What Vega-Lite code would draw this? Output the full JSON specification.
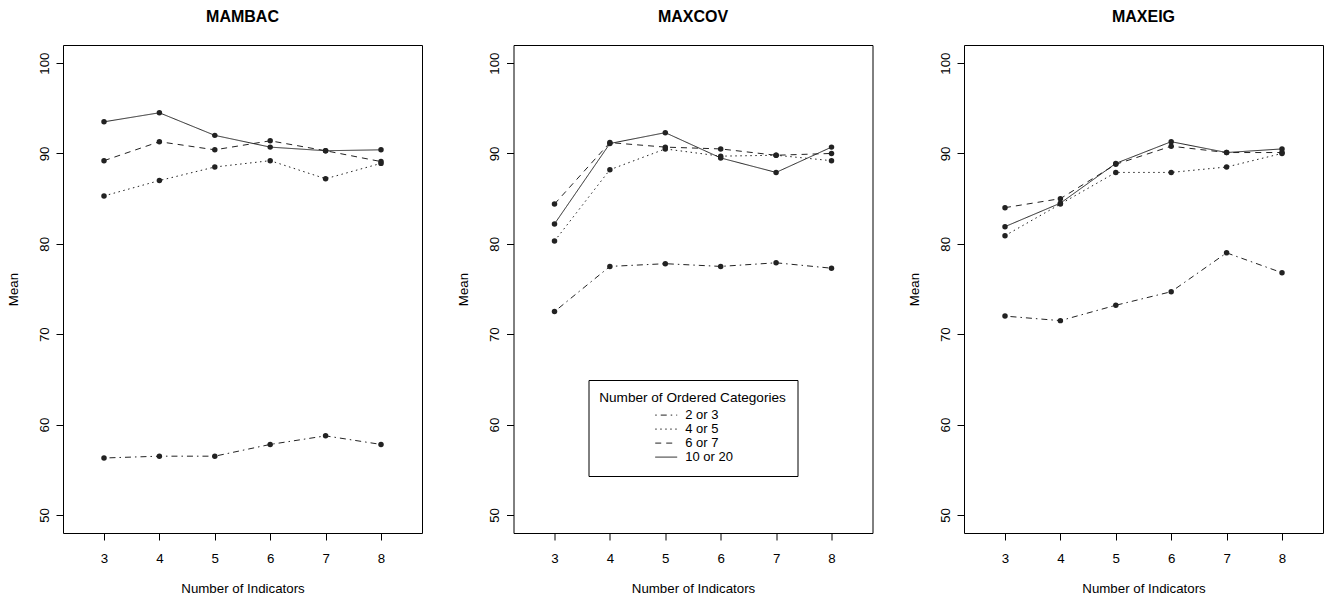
{
  "$schema": "https://vega.github.io/schema/vega-lite/v6.json",
  "padding": {"left": 5, "top": 8, "right": 0, "bottom": 5},
  "background": "white",
  "bounds": "flush",
  "spacing": 91.5,
  "data": {"values": [
    {"method": "MAMBAC", "cat": "2 or 3", "n": 3, "mean": 56.3},
    {"method": "MAMBAC", "cat": "2 or 3", "n": 4, "mean": 56.5},
    {"method": "MAMBAC", "cat": "2 or 3", "n": 5, "mean": 56.5},
    {"method": "MAMBAC", "cat": "2 or 3", "n": 6, "mean": 57.8},
    {"method": "MAMBAC", "cat": "2 or 3", "n": 7, "mean": 58.75},
    {"method": "MAMBAC", "cat": "2 or 3", "n": 8, "mean": 57.8},
    {"method": "MAMBAC", "cat": "4 or 5", "n": 3, "mean": 85.3},
    {"method": "MAMBAC", "cat": "4 or 5", "n": 4, "mean": 87.0},
    {"method": "MAMBAC", "cat": "4 or 5", "n": 5, "mean": 88.5},
    {"method": "MAMBAC", "cat": "4 or 5", "n": 6, "mean": 89.2},
    {"method": "MAMBAC", "cat": "4 or 5", "n": 7, "mean": 87.2},
    {"method": "MAMBAC", "cat": "4 or 5", "n": 8, "mean": 88.9},
    {"method": "MAMBAC", "cat": "6 or 7", "n": 3, "mean": 89.2},
    {"method": "MAMBAC", "cat": "6 or 7", "n": 4, "mean": 91.3},
    {"method": "MAMBAC", "cat": "6 or 7", "n": 5, "mean": 90.4},
    {"method": "MAMBAC", "cat": "6 or 7", "n": 6, "mean": 91.4},
    {"method": "MAMBAC", "cat": "6 or 7", "n": 7, "mean": 90.3},
    {"method": "MAMBAC", "cat": "6 or 7", "n": 8, "mean": 89.1},
    {"method": "MAMBAC", "cat": "10 or 20", "n": 3, "mean": 93.5},
    {"method": "MAMBAC", "cat": "10 or 20", "n": 4, "mean": 94.5},
    {"method": "MAMBAC", "cat": "10 or 20", "n": 5, "mean": 92.0},
    {"method": "MAMBAC", "cat": "10 or 20", "n": 6, "mean": 90.7},
    {"method": "MAMBAC", "cat": "10 or 20", "n": 7, "mean": 90.3},
    {"method": "MAMBAC", "cat": "10 or 20", "n": 8, "mean": 90.4},
    {"method": "MAXCOV", "cat": "2 or 3", "n": 3, "mean": 72.5},
    {"method": "MAXCOV", "cat": "2 or 3", "n": 4, "mean": 77.5},
    {"method": "MAXCOV", "cat": "2 or 3", "n": 5, "mean": 77.8},
    {"method": "MAXCOV", "cat": "2 or 3", "n": 6, "mean": 77.5},
    {"method": "MAXCOV", "cat": "2 or 3", "n": 7, "mean": 77.9},
    {"method": "MAXCOV", "cat": "2 or 3", "n": 8, "mean": 77.3},
    {"method": "MAXCOV", "cat": "4 or 5", "n": 3, "mean": 80.3},
    {"method": "MAXCOV", "cat": "4 or 5", "n": 4, "mean": 88.2},
    {"method": "MAXCOV", "cat": "4 or 5", "n": 5, "mean": 90.5},
    {"method": "MAXCOV", "cat": "4 or 5", "n": 6, "mean": 89.7},
    {"method": "MAXCOV", "cat": "4 or 5", "n": 7, "mean": 89.8},
    {"method": "MAXCOV", "cat": "4 or 5", "n": 8, "mean": 89.2},
    {"method": "MAXCOV", "cat": "6 or 7", "n": 3, "mean": 84.4},
    {"method": "MAXCOV", "cat": "6 or 7", "n": 4, "mean": 91.2},
    {"method": "MAXCOV", "cat": "6 or 7", "n": 5, "mean": 90.7},
    {"method": "MAXCOV", "cat": "6 or 7", "n": 6, "mean": 90.5},
    {"method": "MAXCOV", "cat": "6 or 7", "n": 7, "mean": 89.8},
    {"method": "MAXCOV", "cat": "6 or 7", "n": 8, "mean": 90.0},
    {"method": "MAXCOV", "cat": "10 or 20", "n": 3, "mean": 82.2},
    {"method": "MAXCOV", "cat": "10 or 20", "n": 4, "mean": 91.1},
    {"method": "MAXCOV", "cat": "10 or 20", "n": 5, "mean": 92.3},
    {"method": "MAXCOV", "cat": "10 or 20", "n": 6, "mean": 89.5},
    {"method": "MAXCOV", "cat": "10 or 20", "n": 7, "mean": 87.9},
    {"method": "MAXCOV", "cat": "10 or 20", "n": 8, "mean": 90.7},
    {"method": "MAXEIG", "cat": "2 or 3", "n": 3, "mean": 72.0},
    {"method": "MAXEIG", "cat": "2 or 3", "n": 4, "mean": 71.5},
    {"method": "MAXEIG", "cat": "2 or 3", "n": 5, "mean": 73.2},
    {"method": "MAXEIG", "cat": "2 or 3", "n": 6, "mean": 74.7},
    {"method": "MAXEIG", "cat": "2 or 3", "n": 7, "mean": 79.0},
    {"method": "MAXEIG", "cat": "2 or 3", "n": 8, "mean": 76.8},
    {"method": "MAXEIG", "cat": "4 or 5", "n": 3, "mean": 80.9},
    {"method": "MAXEIG", "cat": "4 or 5", "n": 4, "mean": 84.4},
    {"method": "MAXEIG", "cat": "4 or 5", "n": 5, "mean": 87.9},
    {"method": "MAXEIG", "cat": "4 or 5", "n": 6, "mean": 87.9},
    {"method": "MAXEIG", "cat": "4 or 5", "n": 7, "mean": 88.5},
    {"method": "MAXEIG", "cat": "4 or 5", "n": 8, "mean": 90.0},
    {"method": "MAXEIG", "cat": "6 or 7", "n": 3, "mean": 84.0},
    {"method": "MAXEIG", "cat": "6 or 7", "n": 4, "mean": 85.0},
    {"method": "MAXEIG", "cat": "6 or 7", "n": 5, "mean": 88.8},
    {"method": "MAXEIG", "cat": "6 or 7", "n": 6, "mean": 90.8},
    {"method": "MAXEIG", "cat": "6 or 7", "n": 7, "mean": 90.1},
    {"method": "MAXEIG", "cat": "6 or 7", "n": 8, "mean": 90.1},
    {"method": "MAXEIG", "cat": "10 or 20", "n": 3, "mean": 81.9},
    {"method": "MAXEIG", "cat": "10 or 20", "n": 4, "mean": 84.5},
    {"method": "MAXEIG", "cat": "10 or 20", "n": 5, "mean": 88.9},
    {"method": "MAXEIG", "cat": "10 or 20", "n": 6, "mean": 91.3},
    {"method": "MAXEIG", "cat": "10 or 20", "n": 7, "mean": 90.1},
    {"method": "MAXEIG", "cat": "10 or 20", "n": 8, "mean": 90.5}
  ]},
  "resolve": {"scale": {"strokeDash": "independent"}, "legend": {"strokeDash": "independent"}},
  "hconcat": [
    {
      "width": 359, "height": 488,
      "title": "MAMBAC",
      "transform": [{"filter": "datum.method === 'MAMBAC'"}],
      "layer": [
        {
          "mark": {"type": "line", "color": "#222", "strokeWidth": 1},
          "encoding": {
            "x": {"field": "n", "type": "quantitative", "scale": {"domain": [2.26, 8.74], "nice": false, "zero": false}, "axis": {"values": [3, 4, 5, 6, 7, 8], "title": "Number of Indicators"}},
            "y": {"field": "mean", "type": "quantitative", "scale": {"domain": [48, 102], "nice": false, "zero": false}, "axis": {"values": [50, 60, 70, 80, 90, 100], "title": "Mean"}},
            "strokeDash": {"field": "cat", "type": "nominal", "scale": {"domain": ["2 or 3", "4 or 5", "6 or 7", "10 or 20"], "range": [[1.5, 4, 6, 4], [1.5, 3.5], [6, 5], [1, 0]]}, "legend": null}
          }
        },
        {
          "mark": {"type": "circle", "color": "#222", "size": 30, "opacity": 1},
          "encoding": {
            "x": {"field": "n", "type": "quantitative"},
            "y": {"field": "mean", "type": "quantitative"}
          }
        }
      ]
    },
    {
      "width": 359, "height": 488,
      "title": "MAXCOV",
      "transform": [{"filter": "datum.method === 'MAXCOV'"}],
      "layer": [
        {
          "mark": {"type": "line", "color": "#222", "strokeWidth": 1},
          "encoding": {
            "x": {"field": "n", "type": "quantitative", "scale": {"domain": [2.26, 8.74], "nice": false, "zero": false}, "axis": {"values": [3, 4, 5, 6, 7, 8], "title": "Number of Indicators"}},
            "y": {"field": "mean", "type": "quantitative", "scale": {"domain": [48, 102], "nice": false, "zero": false}, "axis": {"values": [50, 60, 70, 80, 90, 100], "title": "Mean"}},
            "strokeDash": {"field": "cat", "type": "nominal", "scale": {"domain": ["2 or 3", "4 or 5", "6 or 7", "10 or 20"], "range": [[1.5, 4, 6, 4], [1.5, 3.5], [6, 5], [1, 0]]},
              "legend": {"orient": "none", "legendX": 75, "legendY": 335, "title": "Number of Ordered Categories", "titleLimit": 400, "strokeColor": "#000", "fillColor": "white", "padding": 11, "titleFontWeight": "normal", "titleFontSize": 13.6, "titleColor": "#000", "titleAnchor": "middle", "titlePadding": 4, "labelFontSize": 13, "labelColor": "#000", "symbolType": "M-1.83,0H1.83", "symbolSize": 144, "symbolStrokeWidth": 1, "symbolStrokeColor": "#222", "symbolFillColor": "transparent", "symbolOffset": 8.2, "labelOffset": 12.5, "rowPadding": -2.5}}
          }
        },
        {
          "mark": {"type": "circle", "color": "#222", "size": 30, "opacity": 1},
          "encoding": {
            "x": {"field": "n", "type": "quantitative"},
            "y": {"field": "mean", "type": "quantitative"}
          }
        }
      ]
    },
    {
      "width": 359, "height": 488,
      "title": "MAXEIG",
      "transform": [{"filter": "datum.method === 'MAXEIG'"}],
      "layer": [
        {
          "mark": {"type": "line", "color": "#222", "strokeWidth": 1},
          "encoding": {
            "x": {"field": "n", "type": "quantitative", "scale": {"domain": [2.26, 8.74], "nice": false, "zero": false}, "axis": {"values": [3, 4, 5, 6, 7, 8], "title": "Number of Indicators"}},
            "y": {"field": "mean", "type": "quantitative", "scale": {"domain": [48, 102], "nice": false, "zero": false}, "axis": {"values": [50, 60, 70, 80, 90, 100], "title": "Mean"}},
            "strokeDash": {"field": "cat", "type": "nominal", "scale": {"domain": ["2 or 3", "4 or 5", "6 or 7", "10 or 20"], "range": [[1.5, 4, 6, 4], [1.5, 3.5], [6, 5], [1, 0]]}, "legend": null}
          }
        },
        {
          "mark": {"type": "circle", "color": "#222", "size": 30, "opacity": 1},
          "encoding": {
            "x": {"field": "n", "type": "quantitative"},
            "y": {"field": "mean", "type": "quantitative"}
          }
        }
      ]
    }
  ],
  "config": {
    "font": "Liberation Sans",
    "view": {"stroke": "#000", "strokeWidth": 1},
    "axis": {"domain": false, "grid": false, "ticks": true, "tickColor": "#000", "tickSize": 7, "labelFontSize": 13.3, "titleFontSize": 13.3, "labelColor": "#000", "titleColor": "#000", "titleFontWeight": "normal", "labelFlush": false, "labelOverlap": false},
    "axisX": {"labelPadding": 11, "titlePadding": 17},
    "axisY": {"labelAngle": 270, "labelAlign": "center", "labelBaseline": "bottom", "labelPadding": 5, "titlePadding": 17},
    "title": {"fontSize": 16, "fontWeight": "bold", "color": "#000", "offset": 20, "baseline": "alphabetic"}
  }
}
